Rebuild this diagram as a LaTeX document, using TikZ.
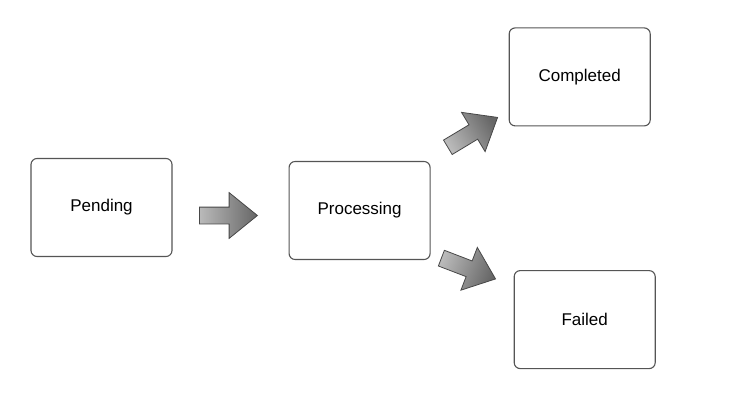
\documentclass[tikz,border=0pt]{standalone}
\usepackage{fontspec}
\setmainfont{Liberation Sans}
\usepackage{xcolor}
\usetikzlibrary{positioning, shapes.arrows}

\definecolor{boxline}{HTML}{555555}
\definecolor{arrowline}{HTML}{484848}
\definecolor{arrowlight}{HTML}{BABABA}
\definecolor{arrowdark}{HTML}{666666}

\begin{document}
\begin{tikzpicture}[x=1pt, y=-1pt,
    font=\fontsize{17}{20}\selectfont,
    stbox/.style={draw=boxline, line width=1.1pt, rounded corners=6pt,
        fill=white, minimum width=141pt, minimum height=98pt, inner sep=0pt},
    bigarrow/.style={single arrow, draw=arrowline, line width=0.8pt,
        left color=arrowlight, right color=arrowdark,
        minimum height=58pt, minimum width=45pt, inner sep=8pt,
        single arrow head extend=14.5pt, single arrow tip angle=78,
        anchor=tail}]
    \useasboundingbox (0,0) rectangle (738,414);
        \node[stbox] (pend) at (101.5,207.5) {Pending};
        \node[stbox] [right = 116pt of pend, yshift=-3pt] (proc) {Processing};
        \node[stbox] [above right = 34.5pt and 78pt of proc] (comp) {Completed};
        \node[stbox] [below right = 10pt and 83pt of proc] (fail) {Failed};
	% block arrows between the states
        \node[bigarrow] (toproc) at (199,215.5) {};
        \node[bigarrow, rotate=31, shading angle=121] (tocomp) at (447.5,147.5) {};
        \node[bigarrow, rotate=-21, shading angle=69] (tofail) at (441,258) {};
    \end{tikzpicture}
\end{document}
